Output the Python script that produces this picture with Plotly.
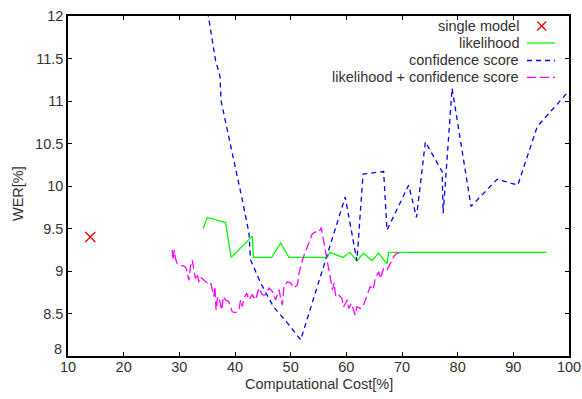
import plotly.graph_objects as go

# ---- data ----
single_x = [14.0]
single_y = [9.40]

lik_x = [34.3, 35.0, 38.3, 39.3, 43.1, 43.3, 46.6, 48.2, 49.7, 56.6, 57.0, 59.4,
         60.6, 61.9, 63.1, 64.6, 65.8, 67.3, 67.6, 95.9]
lik_y = [9.50, 9.63, 9.57, 9.16, 9.41, 9.16, 9.16, 9.33, 9.16, 9.16, 9.22, 9.16,
         9.22, 9.12, 9.21, 9.12, 9.21, 9.08, 9.22, 9.22]

conf_x = [35.1, 36.5, 37.3, 37.5, 41.3, 42.5, 42.8, 44.6, 46.9, 49.4, 51.8, 54.2,
          56.6, 59.8, 61.9, 63.0, 66.7, 67.3, 71.2, 72.6, 74.2, 77.2, 77.4, 79.0,
          82.4, 87.1, 90.8, 94.3, 100.0]
conf_y = [12.05, 11.48, 11.29, 11.00, 9.84, 9.45, 9.13, 8.86, 8.58, 8.39, 8.19, 8.69,
          9.20, 9.87, 9.12, 10.14, 10.17, 9.48, 10.01, 9.63, 10.52, 10.17, 9.68, 11.15,
          9.76, 10.08, 10.01, 10.70, 11.12]

comb_x = [28.7, 28.9, 29.1, 29.3, 29.6, 30.2, 31.1, 31.4, 31.7, 32.0, 32.3, 32.6,
          32.9, 33.2, 33.5, 33.8, 34.4, 35.0, 35.6, 35.9, 36.2, 36.4, 36.6, 36.9,
          37.3, 37.6, 37.9, 38.3, 38.9, 39.5, 40.1, 40.7, 41.0, 41.3, 41.6, 42.1,
          42.5, 43.1, 43.7, 44.3, 44.9, 45.5, 46.1, 46.7, 47.3, 47.9, 48.5, 48.8,
          49.4, 50.0, 50.6, 51.2, 51.5, 52.1, 53.0, 53.9, 54.5, 55.1, 55.5, 56.0,
          56.6, 57.2, 57.5, 57.8, 58.1, 58.6, 59.2, 59.5, 60.2, 60.4, 60.9, 61.3,
          61.6, 61.9, 62.5, 63.1, 63.7, 64.3, 64.8, 65.2, 65.8, 66.1, 66.7, 67.3,
          67.9, 68.5, 69.1, 69.7, 70.2]
comb_y = [9.25, 9.13, 9.25, 9.15, 9.09, 9.07, 9.05, 8.99, 8.89, 9.05, 9.13, 9.01,
          8.91, 8.97, 8.87, 8.93, 8.89, 8.86, 8.87, 8.80, 8.70, 8.82, 8.54, 8.70,
          8.64, 8.54, 8.70, 8.66, 8.64, 8.52, 8.51, 8.54, 8.66, 8.58, 8.68, 8.74,
          8.66, 8.72, 8.66, 8.80, 8.72, 8.72, 8.80, 8.76, 8.66, 8.78, 8.60, 8.82,
          8.87, 8.86, 8.80, 8.84, 8.97, 9.13, 9.29, 9.44, 9.46, 9.46, 9.51, 9.33,
          9.13, 8.89, 8.78, 8.86, 8.70, 8.72, 8.68, 8.58, 8.66, 8.56, 8.62, 8.54,
          8.48, 8.58, 8.56, 8.60, 8.70, 8.82, 8.78, 8.91, 8.99, 8.91, 9.03, 9.01,
          9.09, 9.17, 9.21, 9.21, 9.23]

x_tick_vals = [10, 20, 30, 40, 50, 60, 70, 80, 90, 100]
y_tick_vals = [8, 8.5, 9, 9.5, 10, 10.5, 11, 11.5, 12]
y_tick_text = ["8", "8.5", "9", "9.5", "10", "10.5", "11", "11.5", "12"]

legend_labels = ["single model", "likelihood", "confidence score",
                 "likelihood + confidence score"]
x_title = "Computational Cost[%]"
y_title = "WER[%]"

RED, GREEN, BLUE, MAGENTA = "#ff0000", "#00ff00", "#0000ff", "#ff00ff"
BLUE_DASH = "5px,4px"
MAG_DASH = "9px,4px"
FONT = "Liberation Sans, Arial, sans-serif"
TXT = "#333333"
FS = 14.5

fig = go.Figure()
fig.add_trace(go.Scatter(x=single_x, y=single_y, mode="markers",
                         marker=dict(symbol="x-thin", size=10,
                                     line=dict(width=1.3, color=RED)),
                         showlegend=False))
fig.add_trace(go.Scatter(x=lik_x, y=lik_y, mode="lines",
                         line=dict(color=GREEN, width=1.3), showlegend=False))
fig.add_trace(go.Scatter(x=conf_x, y=conf_y, mode="lines",
                         line=dict(color=BLUE, width=1.3, dash=BLUE_DASH),
                         showlegend=False))
fig.add_trace(go.Scatter(x=comb_x, y=comb_y, mode="lines",
                         line=dict(color=MAGENTA, width=1.3, dash=MAG_DASH),
                         showlegend=False))

# ---- gnuplot-style key (text right, sample on the right) ----
L, R, T, B = 68, 13, 16, 43
W, H = 582 - L - R, 399 - T - B
def px(x):
    return (x - L) / W
def py(y):
    return (399 - B - y) / H

rows = [26, 43, 60.5, 77.3]
text_right = 521
for lab, yy in zip(legend_labels, rows):
    fig.add_annotation(x=px(text_right), y=py(yy), xref="paper", yref="paper",
                       text=lab, showarrow=False, xanchor="right", yanchor="middle",
                       font=dict(family=FONT, size=FS, color=TXT))
cx, cy, d = 541.7, rows[0], 4.5
fig.add_shape(type="line", xref="paper", yref="paper",
              x0=px(cx - d), x1=px(cx + d), y0=py(cy - d), y1=py(cy + d),
              line=dict(color=RED, width=1.3))
fig.add_shape(type="line", xref="paper", yref="paper",
              x0=px(cx - d), x1=px(cx + d), y0=py(cy + d), y1=py(cy - d),
              line=dict(color=RED, width=1.3))
for yy, col, dash in [(rows[1], GREEN, "solid"), (rows[2], BLUE, BLUE_DASH),
                      (rows[3], MAGENTA, MAG_DASH)]:
    fig.add_shape(type="line", xref="paper", yref="paper",
                  x0=px(527), x1=px(555), y0=py(yy), y1=py(yy),
                  line=dict(color=col, width=1.3, dash=dash))

# axis titles
fig.add_annotation(x=px(318.5), y=py(384), xref="paper", yref="paper",
                   text=x_title, showarrow=False, xanchor="center", yanchor="middle",
                   font=dict(family=FONT, size=FS, color=TXT))
fig.add_annotation(x=px(18), y=py(194), xref="paper", yref="paper",
                   text=y_title, showarrow=False, xanchor="center", yanchor="middle",
                   textangle=-90, font=dict(family=FONT, size=FS, color=TXT))

# lowest y tick label sits slightly raised (as in the reference) to clear the "10"
fig.add_annotation(x=px(64), y=py(349), xref="paper", yref="paper",
                   text=y_tick_text[0], showarrow=False, xanchor="right",
                   yanchor="middle", font=dict(family=FONT, size=FS, color=TXT))

axis_common = dict(showgrid=False, zeroline=False, showline=True, linecolor="black",
                   linewidth=1.5, mirror="ticks", ticks="inside", ticklen=4,
                   tickwidth=1.2, tickcolor="black", automargin=False,
                   tickfont=dict(family=FONT, size=FS, color=TXT))
fig.update_xaxes(range=[10, 100], tickvals=x_tick_vals, ticklabelstandoff=-3,
                 **axis_common)
fig.update_yaxes(range=[8, 12], tickvals=y_tick_vals,
                 ticktext=[""] + y_tick_text[1:], **axis_common)
fig.update_layout(width=582, height=399, margin=dict(l=L, r=R, t=T, b=B),
                  plot_bgcolor="white", paper_bgcolor="white", showlegend=False,
                  hovermode=False)
fig.write_html("out.html", config={"displayModeBar": False},
               post_script="document.body.style.margin='0';"
                           "document.body.style.overflow='hidden';")
